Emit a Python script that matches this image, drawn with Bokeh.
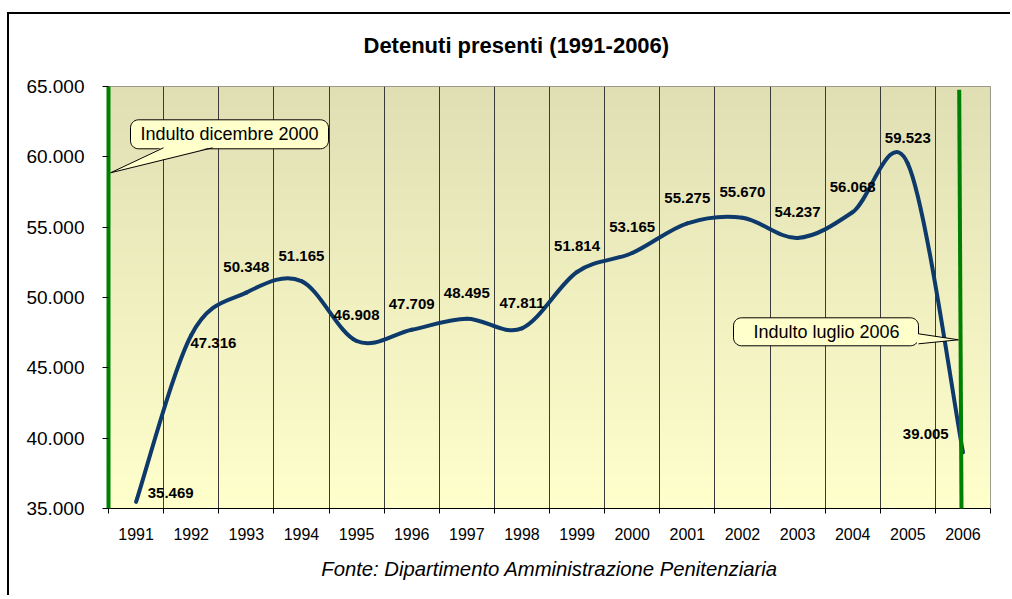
import numpy as np
from bokeh.plotting import figure
from bokeh.models import Range1d, FixedTicker, Label, Arrow, Title
from bokeh.core.properties import value
from bokeh.embed import file_html
from bokeh.resources import INLINE

# ---------------- data ----------------
years = ["1991", "1992", "1993", "1994", "1995", "1996", "1997", "1998",
         "1999", "2000", "2001", "2002", "2003", "2004", "2005", "2006"]
detenuti = [35469, 47316, 50348, 51165, 46908, 47709, 48495, 47811,
            51814, 53165, 55275, 55670, 54237, 56068, 59523, 39005]
value_labels = ["35.469", "47.316", "50.348", "51.165", "46.908", "47.709",
                "48.495", "47.811", "51.814", "53.165", "55.275", "55.670",
                "54.237", "56.068", "59.523", "39.005"]
y_ticks = [35000, 40000, 45000, 50000, 55000, 60000, 65000]
y_tick_labels = ["35.000", "40.000", "45.000", "50.000", "55.000", "60.000", "65.000"]
indulti = ["Indulto dicembre 2000", "Indulto luglio 2006"]
title_text = "Detenuti presenti (1991-2006)"
source_text = "Fonte: Dipartimento Amministrazione Penitenziaria"

# ---------------- layout / style ----------------
FONT = "Liberation Sans"
N = len(years)
Y0, Y1 = 35000, 65000
# plot-area position on the page (px), used to place annotations
FL, FR, FT, FB = 108.0, 990.0, 85.7, 507.7


def px2x(px):
    return (px - FL) * N / (FR - FL)


def px2y(py):
    return Y0 + (FB - py) * (Y1 - Y0) / (FB - FT)


label_dx = [34.6, 22.2] + [0.0] * 13 + [-37.2]
label_dy = [-8.8, 8.2] + [-25.5] * 13 + [-18.0]

centers = [i + 0.5 for i in range(N)]
bounds = list(range(N + 1))

p = figure(width=1003, height=583, output_backend="svg", toolbar_location=None,
           tools="", x_range=Range1d(0, N), y_range=Range1d(Y0, Y1),
           min_border_left=99, min_border_right=22, min_border_top=72,
           min_border_bottom=89, title=None,
           border_fill_color="white", outline_line_color="#808080")
# chart-area frame (left and top edges visible in the window)
p.styles = {"margin-top": "14px", "margin-left": "9px",
            "box-shadow": "-2px -2px 0 0 black"}

# small spacer next to the plot area, then the real title above it
p.add_layout(Title(text=" ", text_font_size="1px", standoff=6), "above")
p.add_layout(Title(text=title_text, align="left", offset=255, standoff=36,
                   vertical_align="top",
                   text_font=FONT, text_font_size="22px", text_font_style="bold",
                   text_color="black"), "above")
p.add_layout(Title(text=source_text, align="center", standoff=26,
                   text_font=FONT, text_font_size="20.3px", text_font_style="italic",
                   text_color="black"), "below")

# gradient background of plot area
H = 422
t = np.linspace(0.0, 1.0, H)[:, None]
bottom_rgb = np.array([255, 255, 204])
top_rgb = np.array([224, 223, 180])
img = np.empty((H, 1), dtype=np.uint32)
view = img.view(dtype=np.uint8).reshape((H, 1, 4))
for k in range(3):
    view[:, :, k] = np.round(bottom_rgb[k] + (top_rgb[k] - bottom_rgb[k]) * t).astype(np.uint8)
view[:, :, 3] = 255
p.image_rgba(image=[img], x=0, y=Y0, dw=N, dh=Y1 - Y0, level="image")

# axes
p.yaxis.ticker = FixedTicker(ticks=y_ticks)
p.yaxis.major_label_overrides = {v: s for v, s in zip(y_ticks, y_tick_labels)}
p.yaxis.minor_tick_line_color = None
p.yaxis.major_tick_out = 6
p.yaxis.major_tick_in = 0
p.yaxis.major_label_standoff = 18
p.yaxis.major_label_text_font = FONT
p.yaxis.major_label_text_font_size = "19px"
p.yaxis.major_label_text_color = "black"
# first event line ("Indulto dicembre 2000") coincides with the left edge
p.yaxis.axis_line_color = "#008000"
p.yaxis.axis_line_width = 4

p.xaxis.ticker = FixedTicker(ticks=centers, minor_ticks=bounds)
p.xaxis.major_label_overrides = {c: y for c, y in zip(centers, years)}
p.xaxis.major_tick_out = 0
p.xaxis.major_tick_in = 0
p.xaxis.minor_tick_out = 5
p.xaxis.minor_tick_in = 0
p.xaxis.minor_tick_line_color = "black"
p.xaxis.major_label_standoff = 14
p.xaxis.major_label_text_font = FONT
p.xaxis.major_label_text_font_size = "16px"
p.xaxis.major_label_text_color = "black"
p.xaxis.axis_line_color = "black"

p.ygrid.visible = False
p.xgrid.ticker = FixedTicker(ticks=bounds[1:-1])
p.xgrid.grid_line_color = "#3a3a3a"
p.xgrid.grid_line_width = 1

# smoothed line (Catmull-Rom style bezier through the data points)
x0s, y0s, x1s, y1s, cx0s, cy0s, cx1s, cy1s = ([] for _ in range(8))
for i in range(N - 1):
    ip = max(i - 1, 0)
    inx = min(i + 2, N - 1)
    x0s.append(centers[i]); y0s.append(detenuti[i])
    x1s.append(centers[i + 1]); y1s.append(detenuti[i + 1])
    cx0s.append(centers[i] + (centers[i + 1] - centers[ip]) / 6)
    cy0s.append(detenuti[i] + (detenuti[i + 1] - detenuti[ip]) / 6)
    cx1s.append(centers[i + 1] - (centers[inx] - centers[i]) / 6)
    cy1s.append(detenuti[i + 1] - (detenuti[inx] - detenuti[i]) / 6)
p.bezier(x0=x0s, y0=y0s, x1=x1s, y1=y1s, cx0=cx0s, cy0=cy0s, cx1=cx1s, cy1=cy1s,
         line_color="#0D3A6B", line_width=4, line_cap="round")

# data labels
p.text(x=centers, y=detenuti, text=value_labels, x_offset=label_dx, y_offset=label_dy,
       text_font=value(FONT), text_font_size="15px", text_font_style="bold",
       text_align="center", text_baseline="middle", text_color="black")

# second event line ("Indulto luglio 2006")
p.add_layout(Arrow(end=None, x_start=px2x(958.7), y_start=px2y(89),
                   x_end=px2x(961), y_end=px2y(511),
                   line_color="#008000", line_width=4))


# callouts
def rounded_rect(l, r, tp, bt, rad=8, n=8):
    pts = []
    corners = [(r - rad, tp + rad, -90, 0), (r - rad, bt - rad, 0, 90),
               (l + rad, bt - rad, 90, 180), (l + rad, tp + rad, 180, 270)]
    for cx, cy, a0, a1 in corners:
        for a in np.linspace(np.radians(a0), np.radians(a1), n):
            pts.append((cx + rad * np.cos(a), cy + rad * np.sin(a)))
    return [px2x(q[0]) for q in pts], [px2y(q[1]) for q in pts]


callouts = [
    dict(box=(130, 328, 119, 148), wedge=[(163, 147), (110, 172), (212, 147)],
         wedge_fill=[(163, 146), (110, 172), (212, 146)], text_xy=(229, 133.5)),
    dict(box=(733, 918, 317, 345), wedge=[(918, 333), (958, 339), (918, 343)],
         wedge_fill=[(916.5, 333), (958, 339), (916.5, 343)], text_xy=(826, 331)),
]
for c, txt in zip(callouts, indulti):
    bx, by = rounded_rect(*c["box"])
    p.patch(bx, by, fill_color="#FFFFCC", line_color="black", line_width=1)
    p.patch([px2x(q[0]) for q in c["wedge_fill"]], [px2y(q[1]) for q in c["wedge_fill"]],
            fill_color="#FFFFCC", line_color=None)
    p.line([px2x(q[0]) for q in c["wedge"]], [px2y(q[1]) for q in c["wedge"]],
           line_color="black", line_width=1)
    p.add_layout(Label(x=px2x(c["text_xy"][0]), y=px2y(c["text_xy"][1]), text=txt,
                       text_font=FONT, text_font_size="18px", text_color="black",
                       text_align="center", text_baseline="middle"))

open("out.html", "w").write(file_html(p, INLINE))
